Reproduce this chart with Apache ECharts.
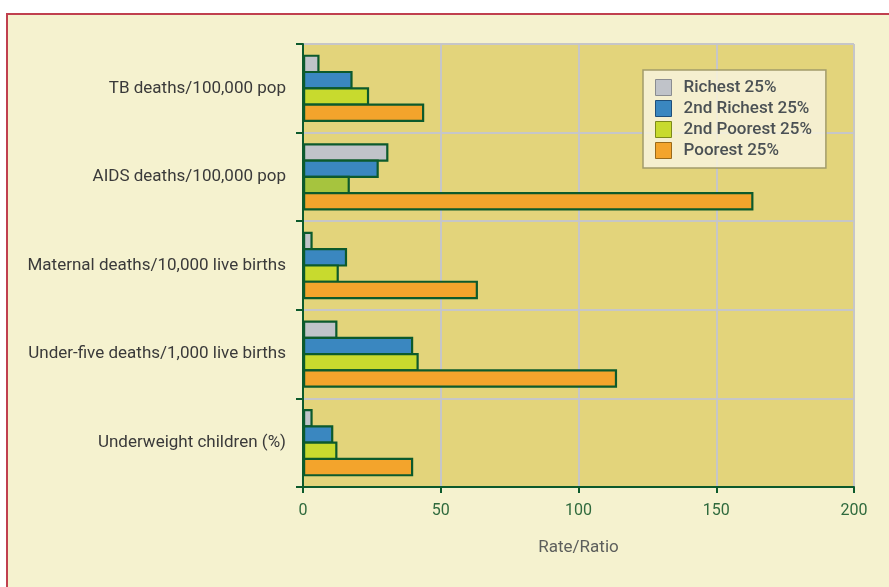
<!DOCTYPE html>
<html>
<head>
<meta charset="utf-8">
<script src="https://cdn.jsdelivr.net/npm/echarts@6/dist/echarts.min.js"></script>
<style>
  html, body { margin: 0; padding: 0; background: #ffffff; }
  #frame {
    position: absolute; left: 6px; top: 13px; width: 900px; height: 600px;
    background: #f5f2cf; border-left: 2px solid #c0404f; border-top: 2px solid #c0404f;
  }
  #chart { position: absolute; left: 0; top: 0; width: 889px; height: 587px; }
</style>
</head>
<body>
<div id="frame"></div>
<div id="chart"></div>
<script>
// Indicators, listed top to bottom
const categories = [
  'TB deaths/100,000 pop',
  'AIDS deaths/100,000 pop',
  'Maternal deaths/10,000 live births',
  'Under-five deaths/1,000 live births',
  'Underweight children (%)'
];

// Wealth quartiles
const seriesNames = ['Richest 25%', '2nd Richest 25%', '2nd Poorest 25%', 'Poorest 25%'];

const richest      = [6, 31, 3.5, 12.5, 3.5];
const secondRich   = [18, 27.5, 16, 40, 11];
const secondPoor   = [24, 17, 13, 42, 12.5];
const poorest      = [44, 163.5, 63.5, 114, 40];

const xTicks = [0, 50, 100, 150, 200];

const fills   = ['#c0c3c9', '#3a87c0', '#c8da2e', '#f3a42c'];
const legendBorders = ['#8a8c90', '#1f4f7a', '#7d8a1a', '#9a6a1a'];
const barEdge = '#0c5a2c';

const values = [richest, secondRich, secondPoor, poorest];

// Bars in a group share their outline: the negative gap lets neighbouring borders overlap
const series = values.map((vals, i) => ({
  name: seriesNames[i],
  type: 'bar',
  barGap: '-12%',
  barCategoryGap: '24%',
  itemStyle: { color: fills[i], borderColor: barEdge, borderWidth: 2.2 },
  // the AIDS bar of the 2nd poorest quartile is printed in an olive shade
  data: vals.map((v, j) => (i === 2 && j === 1)
    ? { value: v, itemStyle: { color: '#a6c43e' } }
    : v)
}));

const chart = echarts.init(document.getElementById('chart'), null, { renderer: 'canvas' });
chart.setOption({
  backgroundColor: 'transparent',
  animation: false,
  textStyle: { fontFamily: 'Roboto' },
  grid: {
    left: 303, right: 35, top: 44, bottom: 100,
    show: true, backgroundColor: '#e3d47b', borderWidth: 0
  },
  legend: {
    orient: 'vertical',
    left: 643, top: 70,
    padding: [9, 14, 9, 12],
    itemWidth: 16, itemHeight: 16, itemGap: 4,
    backgroundColor: 'rgba(247,243,219,0.88)',
    borderColor: '#a39c6b', borderWidth: 1.5,
    textStyle: {
      color: '#4b5154', fontSize: 17, fontWeight: 500, fontFamily: 'Roboto',
      padding: [0, 0, 0, 7]
    },
    data: seriesNames.map((n, i) => ({
      name: n,
      icon: 'rect',
      itemStyle: { color: fills[i], borderColor: legendBorders[i], borderWidth: 1 }
    }))
  },
  xAxis: {
    type: 'value',
    min: xTicks[0], max: xTicks[xTicks.length - 1], interval: 50,
    name: 'Rate/Ratio',
    nameLocation: 'middle',
    nameGap: 52,
    nameTextStyle: { color: '#5d5f5c', fontSize: 17 },
    axisLine: { show: true, lineStyle: { color: barEdge, width: 2 } },
    axisTick: { show: true, length: 6, lineStyle: { color: barEdge, width: 2 } },
    axisLabel: { color: '#2f6a3d', fontSize: 16, margin: 16 },
    splitLine: { show: true, lineStyle: { color: '#c6c6c8', width: 2 } }
  },
  yAxis: {
    type: 'category',
    inverse: true,
    data: categories,
    axisLine: { show: true, lineStyle: { color: barEdge, width: 2 } },
    axisTick: { show: true, length: 7, lineStyle: { color: barEdge, width: 2 } },
    axisLabel: { color: '#3a3a3a', fontSize: 17, margin: 17 },
    splitLine: { show: true, lineStyle: { color: '#c6c6c8', width: 2 } }
  },
  series: series
});
</script>
</body>
</html>
